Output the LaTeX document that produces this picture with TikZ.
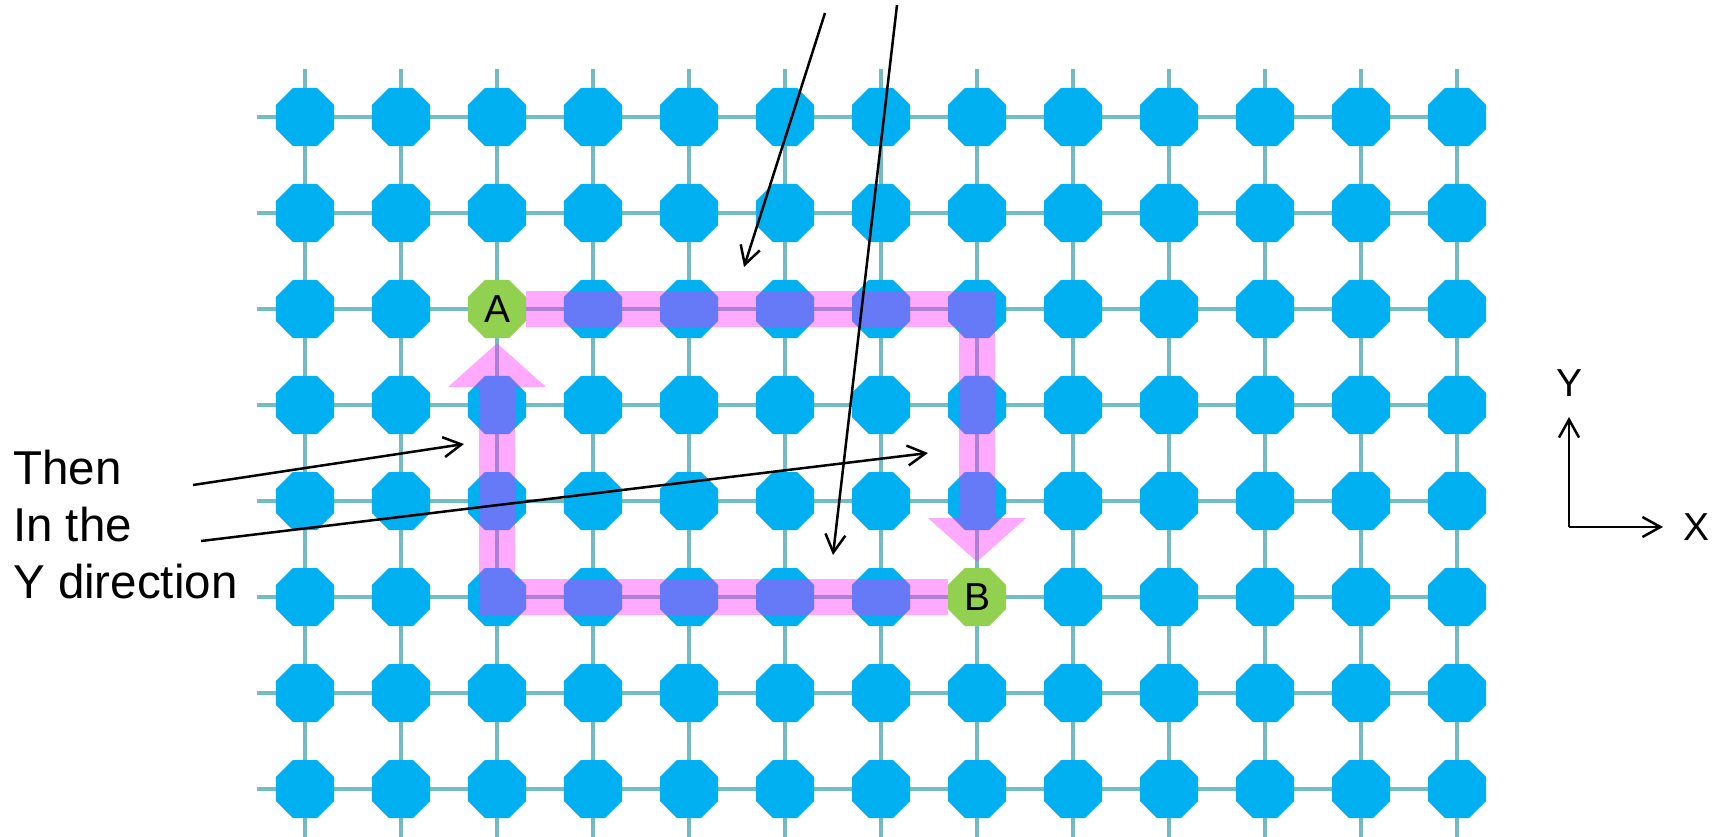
\documentclass[tikz,border=0pt]{standalone}
\usepackage{fontspec}
\setmainfont{Liberation Sans}
\usetikzlibrary{arrows.meta,positioning,calc,shapes.geometric,backgrounds}
\definecolor{Cyan}{RGB}{0,176,240}
\definecolor{Leaf}{RGB}{146,208,80}
\definecolor{Teal}{RGB}{115,188,195}
\definecolor{Pink}{RGB}{255,40,255}
\tikzset{
  site/.style={regular polygon,regular polygon sides=8,minimum size=62.8pt,inner sep=0pt,fill=Cyan},
  endsite/.style={site,fill=Leaf,font=\fontsize{39}{39}\selectfont},
  gridline/.style={draw=Teal,line width=4pt},
  route/.style={draw=Pink,line width=36pt,-{Triangle[width=96pt,length=44pt]}},
  pointer/.style={-{Straight Barb[length=18pt,width=20pt]},line width=2.5pt},
  biglabel/.style={font=\fontsize{47.5}{57}\selectfont,align=left,inner sep=0pt},
  axislabel/.style={font=\fontsize{39}{39}\selectfont,inner sep=0pt}
}
\begin{document}
\begin{tikzpicture}[x=1pt,y=-1pt]
\useasboundingbox (0,0) rectangle (1718,836);
% lattice of sites
\foreach \c in {0,...,12}{
  \foreach \r in {0,...,7}{
    \pgfmathtruncatemacro\hide{(\c==2 && \r==2) || (\c==7 && \r==5)}
    \ifnum\hide=0
      \node[site] (n-\c-\r) at ({305+96*\c},{117+96*\r}) {};
    \fi
  }
}
\node[endsite] (A) at (497,309) {A};
\node[endsite] (B) at (977,597) {B};
\begin{scope}[on background layer]
\foreach \r in {0,...,7}
  \draw[gridline] ($(n-0-\r.center)+(-48,0)$) -- (n-12-\r.center);
\foreach \c in {0,...,12}
  \draw[gridline] ($(n-\c-0.center)+(0,-48)$) -- ($(n-\c-7.center)+(0,48)$);
\end{scope}
% routes between A and B
\begin{scope}[transparency group,opacity=0.4]
\draw[route,shorten >=6pt] (A.east) -| (B.north);
\draw[route,shorten >=5pt] (B.west) -| (A.south);
\end{scope}
% note on the left
\node[biglabel,anchor=north west] (note) at (13,450) {Then\\In the\\Y direction};
\coordinate (s1) at (193,485);
\coordinate (e1) at (464,444);
\coordinate (s2) at (201,541);
\coordinate (e2) at (928,453);
\coordinate (s3) at (825,13);
\coordinate (e3) at (744,267);
\coordinate (s4) at (897,5);
\coordinate (e4) at (833,555);
\draw[pointer] (s1) -- (e1);
\draw[pointer] (s2) -- (e2);
\draw[pointer] (s3) -- (e3);
\draw[pointer] (s4) -- (e4);
% axes
\coordinate (o) at (1569,527);
\coordinate (ytip) at (1569,417);
\coordinate (xtip) at (1663,527);
\draw[pointer] (o) -- (ytip);
\draw[pointer] (o) -- (xtip);
\node[axislabel,above=20pt of ytip] (ylab) {Y};
\node[axislabel,right=20pt of xtip] (xlab) {X};
\end{tikzpicture}
\end{document}
